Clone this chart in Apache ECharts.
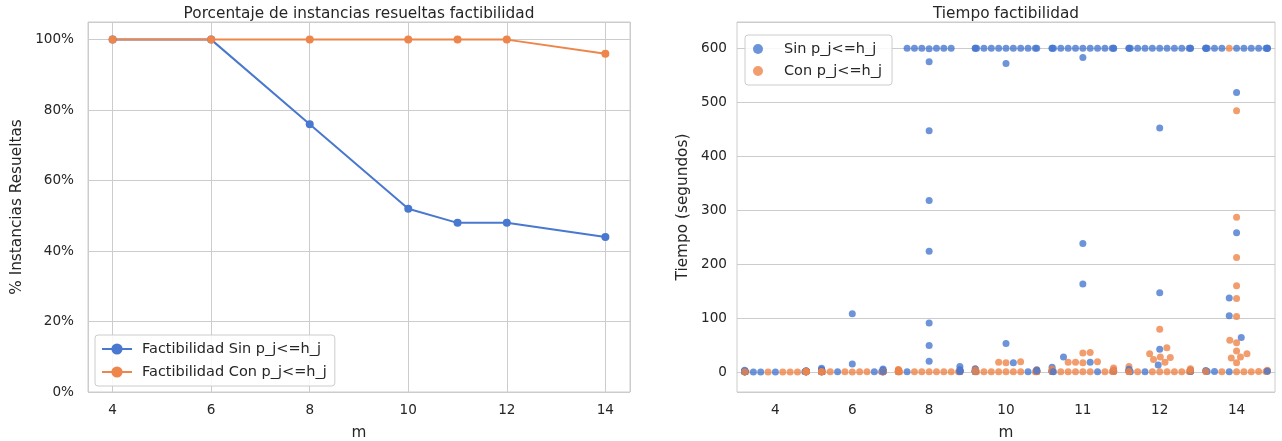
<!DOCTYPE html>
<html><head><meta charset="utf-8">
<script src="https://cdn.jsdelivr.net/npm/echarts@6/dist/echarts.min.js"></script>
<style>html,body{margin:0;padding:0;background:#fff}#c{width:1282px;height:441px}</style>
</head><body><div id="c"></div>
<script>
// ---- data ----
const mValues = [4, 6, 8, 10, 11, 12, 14];
const pctSin = [100, 100, 76, 52, 48, 48, 44];
const pctCon = [100, 100, 100, 100, 100, 100, 96];
const categories = ['4', '6', '8', '10', '11', '12', '14'];
const timeSin = [
  [0.4,1.1,0.2,2.5,0.7,0.3,1.6,0.5,0.9,0.2,3.0,0.6,1.3,0.4,0.8,0.3,2.0,0.5,1.0,0.2,0.6,1.4,0.3,0.7,0.9],
  [0.8,108,1.5,0.4,15,2.2,0.6,7,1.1,0.3,4.5,0.9,1.8,0.5,3.2,0.7,1.2,0.4,5.5,0.6,2.6,0.9,0.3,1.4,0.7],
  [600,1.2,447,10,600,0.6,224,600,2.5,91,575,0.8,600,4,318,3,600,49,1.5,600,0.4,20,599,2,0.9],
  [600,1.5,600,53,600,0.8,600,572,600,2.4,600,0.5,600,17,600,1.1,600,3.8,600,0.6,600,5.5,600,0.9,2.0],
  [600,0.8,600,238,600,18,600,1.5,600,583,600,0.5,600,163,600,28,600,9,600,2.2,600,1.0,600,0.6,600],
  [600,1.0,600,452,600,0.5,600,147,600,2.2,600,42,600,0.8,600,13,600,3.5,600,0.6,600,1.4,600,5.0,600],
  [600,0.7,600,518,600,1.5,600,258,600,0.4,600,137,600,2.8,600,104,600,0.9,600,64,600,1.2,600,600,600]
];
const timeCon = [
  [0.3,0.6,0.2,0.9,0.4,1.2,0.3,0.5,0.2,0.8,0.4,0.7,0.3,1.0,0.2,0.5,0.6,0.3,0.9,0.4,0.2,0.7,0.5,0.3,0.6],
  [0.4,0.6,0.3,0.9,0.5,1.1,0.3,0.7,0.4,0.8,0.2,0.6,1.3,0.5,0.3,0.7,0.4,0.9,0.5,0.3,0.6,1.0,0.4,0.8,0.5],
  [0.5,1.2,0.3,2.1,0.8,0.4,1.5,0.6,3.5,0.9,0.3,1.1,0.5,0.7,2.6,0.4,1.3,0.6,0.8,4.8,0.3,1.0,0.5,1.7,0.7],
  [0.6,17,1.2,0.4,18,2.5,0.8,0.3,19,1.0,0.5,4.2,0.7,1.5,0.4,6.0,0.9,0.3,2.0,0.6,1.1,0.5,3.0,0.8,0.4],
  [0.5,36,1.2,18,0.8,0.3,35,2.0,19,0.6,1.5,17,0.4,0.9,18,3.5,0.7,1.1,5.0,0.5,2.6,0.8,0.4,7.5,1.3],
  [0.6,79,1.1,34,0.4,28,2.0,0.8,45,0.3,27,1.5,23,0.5,18,0.9,10,0.4,3.0,0.7,1.2,6.0,0.5,2.4,0.8],
  [600,0.5,484,1.2,287,0.8,212,2.0,160,0.4,136,1.5,103,0.6,59,3.0,54,0.9,39,0.3,34,1.1,28,26,17]
];
const nameSinLine = 'Factibilidad Sin p_j<=h_j';
const nameConLine = 'Factibilidad Con p_j<=h_j';
const nameSin = 'Sin p_j<=h_j';
const nameCon = 'Con p_j<=h_j';

// ---- style ----
const BLUE = '#4878d0', ORANGE = '#ee854a', TXT = '#262626', GRIDC = '#cccccc';
const FONT = 'DejaVu Sans';
const TICK_FS = 13.6, LEG_FS = 14.5, LAB_FS = 15.3;

const chart = echarts.init(document.getElementById('c'), null, {renderer: 'canvas'});

const tickLabel = {color: TXT, fontSize: TICK_FS, fontFamily: FONT};
const nameStyle = {fontSize: LAB_FS, color: TXT, fontFamily: FONT};
const baseOption = {
  animation: false,
  backgroundColor: '#fff',
  textStyle: {fontFamily: FONT, color: TXT},
  title: [
    {text: 'Porcentaje de instancias resueltas factibilidad', left: 359, top: 7, textAlign: 'center', padding: 0,
     textStyle: {fontSize: LAB_FS, fontWeight: 'normal', color: TXT, fontFamily: FONT}},
    {text: 'Tiempo factibilidad', left: 1006, top: 7, textAlign: 'center', padding: 0,
     textStyle: {fontSize: LAB_FS, fontWeight: 'normal', color: TXT, fontFamily: FONT}}
  ],
  grid: [
    {left: 88, top: 22, width: 542, height: 370, show: true, borderColor: GRIDC, borderWidth: 1,
     backgroundColor: 'transparent', containLabel: false, outerBoundsMode: 'none'},
    {left: 737, top: 22, width: 538, height: 370, show: true, borderColor: GRIDC, borderWidth: 1,
     backgroundColor: 'transparent', containLabel: false, outerBoundsMode: 'none'}
  ],
  legend: [
    {orient: 'vertical', left: 95, top: 335, padding: [6, 8, 6, 6], itemGap: 7, itemWidth: 30, itemHeight: 14,
     backgroundColor: 'rgba(255,255,255,0.85)', borderColor: GRIDC, borderWidth: 1, borderRadius: 3,
     data: [nameSinLine, nameConLine],
     textStyle: {fontSize: LEG_FS, lineHeight: 16, color: TXT, fontFamily: FONT, padding: [0, 0, 0, 5]}},
    {orient: 'vertical', left: 745, top: 35, padding: [6, 10, 6, 8], itemGap: 6, itemWidth: 24, itemHeight: 10,
     backgroundColor: 'rgba(255,255,255,0.85)', borderColor: GRIDC, borderWidth: 1, borderRadius: 3,
     icon: 'circle',
     data: [nameSin, nameCon],
     textStyle: {fontSize: LEG_FS, lineHeight: 16, color: TXT, fontFamily: FONT, padding: [0, 0, 0, 9]}}
  ],
  xAxis: [
    {gridIndex: 0, type: 'value', min: 3.5, max: 14.5, splitNumber: 5,
     name: 'm', nameLocation: 'middle', nameGap: 34, nameTextStyle: nameStyle,
     axisLine: {show: false}, axisTick: {show: false},
     axisLabel: Object.assign({margin: 11, showMinLabel: false, showMaxLabel: false}, tickLabel),
     splitLine: {show: true, lineStyle: {color: GRIDC, width: 1}}},
    {gridIndex: 1, type: 'category', data: categories, boundaryGap: true,
     name: 'm', nameLocation: 'middle', nameGap: 34, nameTextStyle: nameStyle,
     axisLine: {show: false}, axisTick: {show: false},
     axisLabel: Object.assign({margin: 11}, tickLabel),
     splitLine: {show: false}},
    {gridIndex: 1, type: 'value', min: -0.5, max: 6.5, show: false, position: 'top',
     splitLine: {show: false}}
  ],
  yAxis: [
    {gridIndex: 0, type: 'value', min: 0, max: 105, interval: 20,
     name: '% Instancias Resueltas', nameLocation: 'middle', nameGap: 63, nameTextStyle: nameStyle,
     axisLine: {show: false}, axisTick: {show: false},
     axisLabel: Object.assign({margin: 14, showMaxLabel: false, formatter: v => v + '%'}, tickLabel),
     splitLine: {show: true, lineStyle: {color: GRIDC, width: 1}}},
    {gridIndex: 1, type: 'value', min: -37.1, max: 648.7,
     name: 'Tiempo (segundos)', nameLocation: 'middle', nameGap: 46, nameTextStyle: nameStyle,
     axisLine: {show: false}, axisTick: {show: false},
     axisLabel: Object.assign({margin: 10, showMinLabel: false, showMaxLabel: false}, tickLabel),
     splitLine: {show: true, lineStyle: {color: GRIDC, width: 1}}}
  ],
  series: [
    {name: nameSinLine, type: 'line', xAxisIndex: 0, yAxisIndex: 0,
     data: mValues.map((m, i) => [m, pctSin[i]]),
     symbol: 'circle', symbolSize: 8, itemStyle: {color: BLUE}, lineStyle: {color: BLUE, width: 2}},
    {name: nameConLine, type: 'line', xAxisIndex: 0, yAxisIndex: 0,
     data: mValues.map((m, i) => [m, pctCon[i]]),
     symbol: 'circle', symbolSize: 8, itemStyle: {color: ORANGE}, lineStyle: {color: ORANGE, width: 2}},
    {name: nameSin, type: 'scatter', xAxisIndex: 2, yAxisIndex: 1, data: [], itemStyle: {color: BLUE}},
    {name: nameCon, type: 'scatter', xAxisIndex: 2, yAxisIndex: 1, data: [], itemStyle: {color: ORANGE}},
    {id: 'swarm', type: 'scatter', xAxisIndex: 2, yAxisIndex: 1, data: [], symbolSize: 7, z: 3}
  ]
};
chart.setOption(baseOption);

// ---- seaborn-like beeswarm layout in pixel space ----
function beeswarm(pts, r) {
  const mid = pts[0].x;
  const swarm = [pts[0]];
  for (let k = 1; k < pts.length; k++) {
    const p = pts[k];
    const nb = [];
    for (let j = swarm.length - 1; j >= 0; j--) {
      if (p.y - swarm[j].y < 2 * r) nb.push(swarm[j]); else break;
    }
    nb.reverse();
    let cands = [p.x];
    let leftFirst = true;
    for (const q of nb) {
      const dy = p.y - q.y;
      const dx = Math.sqrt(Math.max(4 * r * r - dy * dy, 0)) * 1.05;
      if (leftFirst) cands.push(q.x - dx, q.x + dx); else cands.push(q.x + dx, q.x - dx);
      leftFirst = !leftFirst;
    }
    const ordered = cands.map((x, i) => ({x, i}))
      .sort((a, b) => (Math.abs(a.x - mid) - Math.abs(b.x - mid)) || (a.i - b.i));
    let chosen = ordered[0].x;
    if (nb.length) {
      for (const c of ordered) {
        let ok = true;
        for (const q of nb) {
          const ddx = q.x - c.x, ddy = q.y - p.y;
          if (ddx * ddx + ddy * ddy < 4 * r * r - 1e-6) { ok = false; break; }
        }
        if (ok) { chosen = c.x; break; }
      }
    }
    p.x = chosen;
    swarm.push(p);
  }
}

const pxPerCat = chart.convertToPixel({xAxisIndex: 2}, 1) - chart.convertToPixel({xAxisIndex: 2}, 0);
const R = 3.5;
const half = 0.4 * pxPerCat;
const swarmData = [];
categories.forEach((c, ci) => {
  const pts = [];
  for (let i = 0; i < timeSin[ci].length; i++) {
    pts.push({v: timeSin[ci][i], hue: 0});
    pts.push({v: timeCon[ci][i], hue: 1});
  }
  pts.forEach((p, k) => { p.order = k; p.x = 0; p.y = -chart.convertToPixel({yAxisIndex: 1}, p.v); });
  const sorted = pts.slice().sort((a, b) => (a.y - b.y) || (a.order - b.order));
  beeswarm(sorted, R);
  pts.forEach(p => {
    const x = Math.max(-half, Math.min(half, p.x));
    swarmData.push({value: [ci + x / pxPerCat, p.v], itemStyle: {color: p.hue ? ORANGE : BLUE}});
  });
});
chart.setOption({series: [{id: 'swarm', data: swarmData}]});
</script>
</body></html>
